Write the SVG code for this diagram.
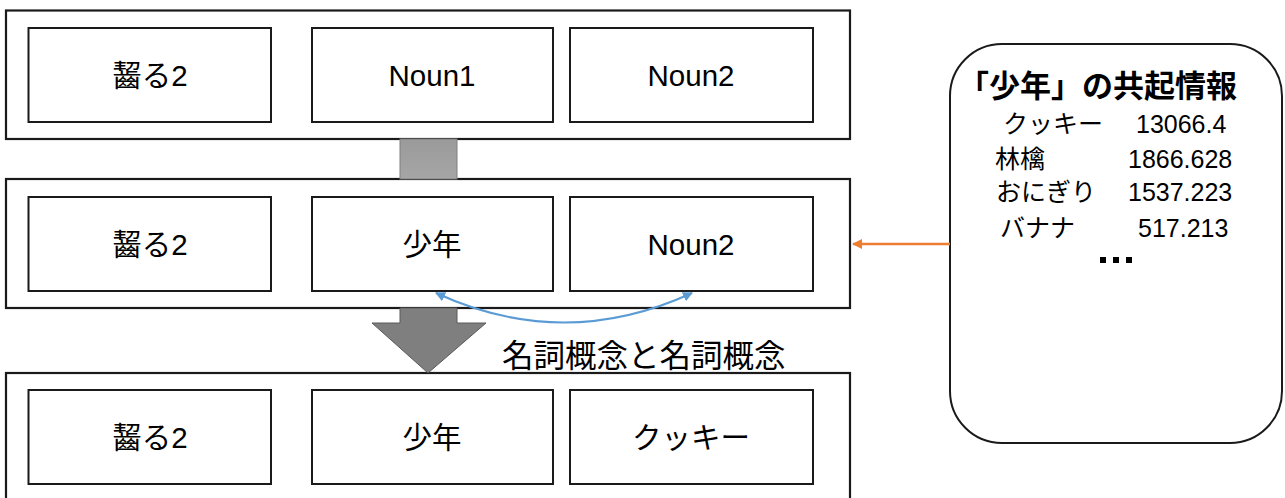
<svg xmlns="http://www.w3.org/2000/svg" width="1285" height="498" viewBox="0 0 1285 498">
<style>
.outer{fill:#fff;stroke:#1a1a1a;stroke-width:2.2}
.inner{fill:#fff;stroke:#1a1a1a;stroke-width:2}
.lbl{font-family:"Liberation Sans","Noto Sans CJK JP",sans-serif;font-size:29.5px;fill:#000;text-anchor:middle}
.jp{font-family:"Noto Sans CJK JP",sans-serif;fill:#000}
.num{font-family:"Liberation Sans","Noto Sans CJK JP",sans-serif;font-size:25px;fill:#000}
.row{font-family:"Liberation Sans","Noto Sans CJK JP",sans-serif;font-size:25px;fill:#000}
</style>
<defs>
<marker id="blueHead" viewBox="0 0 10 10" refX="9" refY="5" markerWidth="5" markerHeight="5" orient="auto-start-reverse" markerUnits="strokeWidth">
<path d="M0,0 L10,5 L0,10 z" fill="#5B9BD5"/>
</marker>
<marker id="orangeHead" viewBox="0 0 10 10" refX="9" refY="5" markerWidth="4" markerHeight="4" orient="auto" markerUnits="strokeWidth">
<path d="M0,0 L10,5 L0,10 z" fill="#ED7D31"/>
</marker>
<linearGradient id="grayGrad" x1="0" y1="0" x2="0" y2="1">
<stop offset="0" stop-color="#9a9a9a"/>
<stop offset="1" stop-color="#a6a6a6"/>
</linearGradient>
</defs>

<g id="stage1">
<rect class="outer" x="6" y="10.5" width="844" height="128.5"/>
<g id="s1-verb"><rect class="inner" x="28.5" y="28" width="242.5" height="94"/><text class="lbl" x="150" y="86">齧る2</text></g>
<g id="s1-noun1"><rect class="inner" x="312" y="28" width="241" height="94"/><text class="lbl" x="432" y="86">Noun1</text></g>
<g id="s1-noun2"><rect class="inner" x="570" y="28" width="243" height="94"/><text class="lbl" x="691" y="86">Noun2</text></g>
</g>

<g id="stage2">
<rect class="outer" x="6" y="179" width="844" height="129"/>
<g id="s2-verb"><rect class="inner" x="28.5" y="197" width="242.5" height="94"/><text class="lbl" x="150" y="255">齧る2</text></g>
<g id="s2-noun1"><rect class="inner" x="312" y="197" width="241" height="94"/><text class="lbl" x="432" y="255">少年</text></g>
<g id="s2-noun2"><rect class="inner" x="570" y="197" width="243" height="94"/><text class="lbl" x="691" y="255">Noun2</text></g>
</g>

<g id="stage3">
<rect class="outer" x="6" y="373" width="844" height="135"/>
<g id="s3-verb"><rect class="inner" x="28.5" y="390" width="242.5" height="94"/><text class="lbl" x="150" y="448">齧る2</text></g>
<g id="s3-noun1"><rect class="inner" x="312" y="390" width="241" height="94"/><text class="lbl" x="432" y="448">少年</text></g>
<g id="s3-noun2"><rect class="inner" x="570" y="390" width="243" height="94"/><text class="lbl" x="691" y="448">クッキー</text></g>
</g>

<g id="cooc-panel">
<rect x="950" y="44" width="332" height="399" rx="52" ry="52" fill="#fff" stroke="#1a1a1a" stroke-width="2"/>
<text class="jp" x="958" y="97" font-size="31" font-weight="bold">「少年」の共起情報</text>
<text class="row" x="1003" y="133">クッキー</text><text class="num" x="1136" y="133">13066.4</text>
<text class="row" x="995" y="168">林檎</text><text class="num" x="1128" y="168">1866.628</text>
<text class="row" x="996" y="201">おにぎり</text><text class="num" x="1128" y="201">1537.223</text>
<text class="row" x="1000" y="237">バナナ</text><text class="num" x="1138" y="237">517.213</text>
<g fill="#000"><rect x="1100" y="257" width="6" height="6"/><rect x="1113" y="257" width="6" height="6"/><rect x="1126" y="257" width="6" height="6"/></g>
</g>

<g id="connectors">
<rect x="400" y="139" width="57" height="40" fill="url(#grayGrad)" stroke="#7f7f7f" stroke-width="1"/>
<polygon points="400,308 457,308 457,323 486,323 428,373 372,323 400,323" fill="#7f7f7f" stroke="#5a5a5a" stroke-width="1"/>
<path d="M436,293 Q564,352 692,293" fill="none" stroke="#5B9BD5" stroke-width="2" marker-start="url(#blueHead)" marker-end="url(#blueHead)"/>
<line x1="950" y1="244" x2="853" y2="244" stroke="#ED7D31" stroke-width="2.5" marker-end="url(#orangeHead)"/>
<text class="jp" x="502" y="367" font-size="31.5">名詞概念と名詞概念</text>
</g>
</svg>
